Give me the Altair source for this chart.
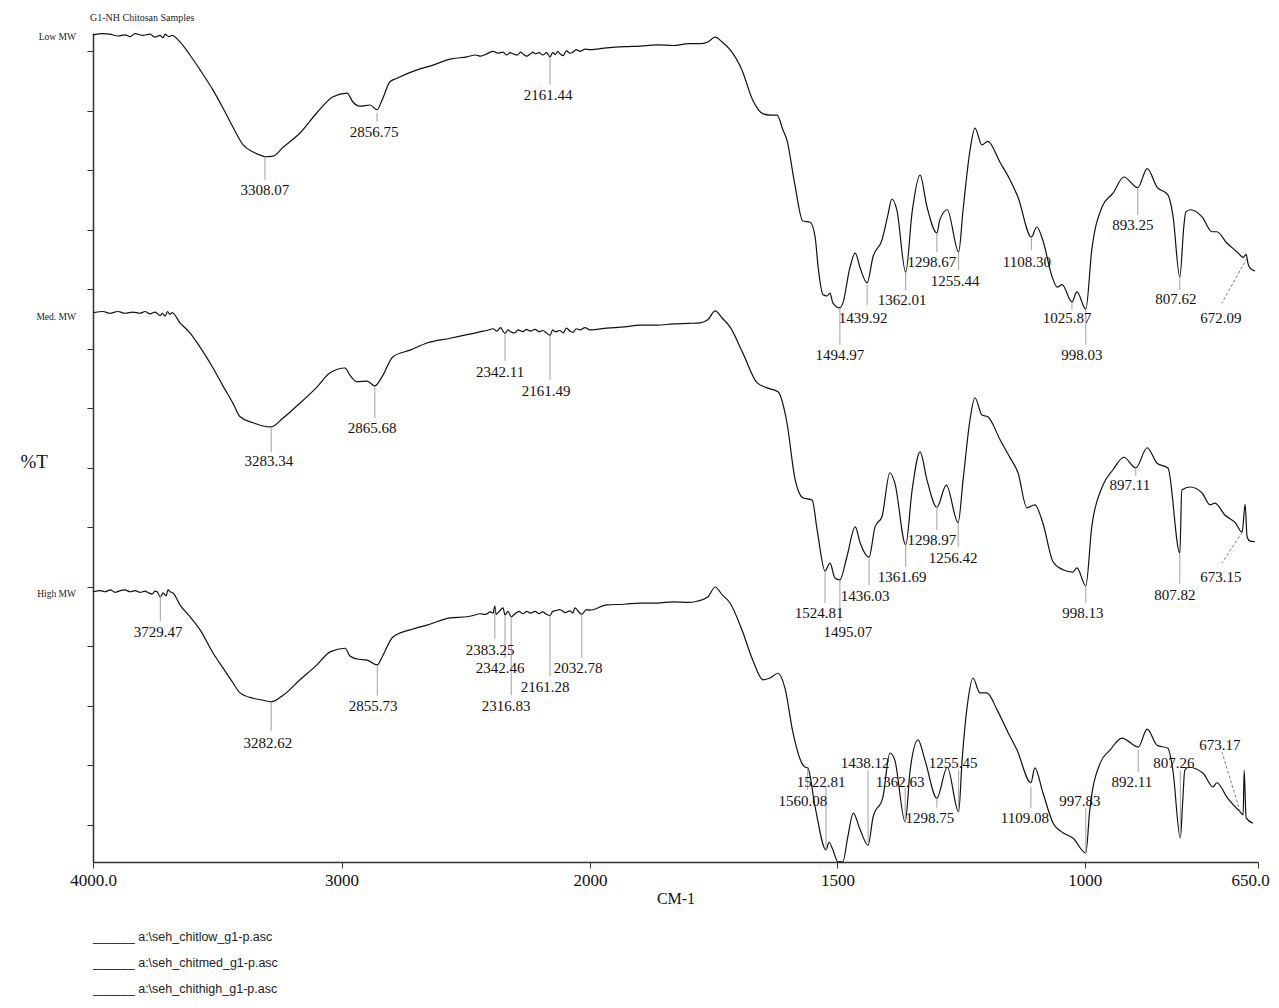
import altair as alt
import pandas as pd

# ---------------- spectra: wavenumber (cm-1) and %T (offset, arbitrary units) ----------------
low_wn = [4000, 3960, 3932, 3900, 3871, 3850, 3831, 3800, 3771, 3750, 3730, 3718, 3710, 3695, 3682, 3650,
          3610, 3569, 3517, 3477, 3437, 3396, 3356, 3316, 3308, 3276, 3235, 3167, 3099, 3034, 2978, 2954,
          2926, 2885, 2857, 2837, 2805, 2777, 2696, 2632, 2563, 2495, 2460, 2440, 2415, 2390, 2370, 2350,
          2335, 2322, 2305, 2290, 2280, 2270, 2255, 2240, 2230, 2221, 2205, 2190, 2175, 2161, 2150, 2140,
          2130, 2121, 2108, 2095, 2080, 2068, 2055, 2040, 2020, 2000, 1966, 1930, 1899, 1865, 1832, 1800,
          1778, 1762, 1747, 1733, 1717, 1693, 1671, 1650, 1636, 1622, 1610, 1602, 1586, 1570, 1555, 1545,
          1539, 1529, 1521, 1515, 1509, 1495, 1489, 1475, 1464, 1454, 1440, 1428, 1410, 1398, 1390, 1380,
          1362, 1349, 1333, 1319, 1299, 1293, 1278, 1255, 1246, 1232, 1222, 1208, 1196, 1171, 1151, 1135,
          1108, 1097, 1085, 1066, 1056, 1046, 1026, 1016, 998, 986, 965, 943, 921, 893, 874, 854, 832, 822,
          808, 800, 796, 787, 763, 743, 733, 713, 692, 680, 674, 670, 666, 656]
low_t = [142.8, 143.0, 142.9, 142.6, 142.8, 142.5, 143.0, 142.7, 142.9, 142.4, 142.7, 142.3, 142.9, 142.5,
         142.7, 141.6, 139.4, 136.9, 133.5, 130.5, 127.3, 124.3, 123.1, 122.4, 122.3, 122.4, 123.9, 126.3,
         129.7, 132.4, 133.0, 131.5, 130.8, 131.0, 130.2, 131.8, 134.9, 135.5, 136.9, 137.7, 138.7, 139.1,
         139.4, 139.2, 139.6, 140.0, 139.7, 139.9, 139.4, 139.8, 139.5, 139.4, 139.9, 139.6, 139.2, 139.6,
         139.9, 139.6, 139.8, 139.4, 139.8, 139.1, 139.8, 139.5, 140.0, 139.6, 139.3, 140.1, 139.7, 139.9,
         140.3, 140.0, 140.4, 140.3, 140.6, 140.8, 140.9, 141.1, 141.0, 141.3, 141.3, 141.6, 142.4, 141.6,
         140.3, 136.9, 131.8, 129.5, 129.3, 129.3, 126.8, 125.1, 117.6, 111.5, 111.3, 108.8, 103.8, 99.1,
         98.9, 99.4, 97.7, 96.9, 97.7, 103.6, 106.1, 103.6, 101.1, 105.5, 108.3, 112.5, 115.2, 113.4,
         102.9, 113.0, 119.2, 113.9, 109.5, 111.7, 113.4, 106.3, 113.4, 123.4, 127.1, 124.3, 124.9, 121.3,
         118.4, 115.5, 108.8, 110.5, 108.3, 102.1, 100.4, 100.8, 97.9, 99.6, 96.7, 106.6, 113.9, 116.2,
         118.9, 117.1, 120.3, 117.2, 115.9, 112.5, 102.1, 110.5, 113.0, 113.4, 112.2, 109.7, 109.7, 107.8,
         106.3, 105.4, 105.9, 104.3, 103.6, 103.1]

med_wn = [4000, 3960, 3932, 3900, 3871, 3840, 3811, 3790, 3771, 3750, 3730, 3720, 3710, 3700, 3690, 3682,
          3650, 3610, 3569, 3517, 3477, 3437, 3408, 3356, 3320, 3283, 3235, 3167, 3099, 3046, 2986, 2966,
          2938, 2897, 2866, 2837, 2793, 2724, 2656, 2563, 2495, 2460, 2440, 2415, 2390, 2375, 2360, 2350,
          2342, 2330, 2320, 2302, 2290, 2270, 2255, 2240, 2221, 2205, 2190, 2175, 2161, 2150, 2140, 2121,
          2108, 2095, 2080, 2068, 2055, 2040, 2020, 2000, 1966, 1930, 1899, 1865, 1832, 1800, 1778, 1762,
          1747, 1733, 1717, 1691, 1662, 1636, 1620, 1602, 1586, 1570, 1551, 1541, 1525, 1515, 1505, 1495,
          1481, 1464, 1454, 1436, 1424, 1410, 1394, 1384, 1362, 1349, 1333, 1319, 1299, 1280, 1256, 1246,
          1232, 1222, 1208, 1196, 1171, 1151, 1135, 1117, 1101, 1085, 1064, 1044, 1024, 1016, 998, 986,
          965, 943, 921, 897, 874, 854, 832, 808, 804, 787, 763, 747, 737, 717, 696, 682, 676, 672, 666,
          656]
med_t = [96.1, 96.3, 96.0, 96.3, 96.0, 96.2, 96.0, 96.3, 95.9, 96.2, 95.6, 96.0, 95.5, 96.3, 95.8, 96.1,
         94.4, 92.7, 90.3, 86.8, 83.8, 80.9, 78.6, 77.6, 77.1, 76.9, 78.4, 80.9, 83.6, 86.0, 86.8, 85.6,
         84.5, 84.6, 83.8, 85.3, 88.7, 89.8, 91.0, 91.8, 92.4, 92.7, 92.9, 93.1, 93.4, 93.0, 93.6, 93.0,
         92.6, 93.2, 92.9, 92.7, 93.2, 92.9, 93.3, 93.0, 93.3, 92.9, 93.1, 92.7, 92.3, 93.2, 92.9, 93.1,
         92.7, 93.5, 93.0, 92.8, 93.4, 93.2, 93.6, 93.2, 93.5, 93.7, 94.0, 94.0, 94.2, 94.3, 94.4, 94.9,
         96.4, 95.2, 93.7, 89.3, 84.3, 83.3, 82.8, 77.6, 68.3, 65.0, 64.6, 59.6, 52.7, 54.0, 51.5, 51.2,
         55.0, 60.1, 57.4, 55.0, 60.1, 61.8, 69.2, 67.5, 57.1, 66.3, 72.7, 68.0, 63.4, 67.1, 60.8, 68.0,
         78.1, 81.8, 78.9, 78.6, 74.7, 71.7, 69.2, 63.3, 63.8, 60.8, 54.2, 52.9, 52.5, 53.2, 50.2, 60.1,
         66.8, 69.7, 71.8, 70.0, 73.4, 70.8, 70.0, 55.7, 66.3, 66.8, 65.8, 63.8, 64.1, 62.1, 60.8, 59.2,
         63.9, 58.4, 57.7, 57.6]

high_wn = [4000, 3970, 3952, 3930, 3911, 3890, 3871, 3850, 3831, 3810, 3791, 3775, 3763, 3750, 3742, 3729,
           3718, 3706, 3698, 3690, 3678, 3650, 3610, 3569, 3517, 3477, 3437, 3408, 3356, 3320, 3283, 3235,
           3167, 3099, 3046, 2986, 2966, 2938, 2897, 2856, 2837, 2793, 2724, 2656, 2563, 2495, 2470, 2443,
           2420, 2402, 2390, 2383, 2378, 2365, 2350, 2342, 2330, 2317, 2302, 2285, 2270, 2255, 2240, 2221,
           2205, 2190, 2175, 2161, 2150, 2140, 2121, 2100, 2081, 2070, 2060, 2045, 2033, 2015, 2000, 1966,
           1930, 1899, 1865, 1832, 1800, 1784, 1762, 1747, 1733, 1717, 1693, 1671, 1650, 1636, 1620, 1606,
           1590, 1572, 1565, 1560, 1545, 1523, 1517, 1509, 1499, 1489, 1479, 1468, 1454, 1438, 1428, 1408,
           1394, 1384, 1363, 1353, 1337, 1323, 1299, 1278, 1255, 1248, 1236, 1226, 1212, 1198, 1177, 1155,
           1137, 1109, 1101, 1085, 1064, 1044, 1024, 998, 990, 969, 949, 925, 892, 874, 854, 832, 822, 807,
           802, 798, 790, 761, 741, 733, 713, 686, 680, 678, 674, 660]
high_t = [49.2, 49.4, 49.2, 49.5, 49.1, 49.4, 49.5, 49.2, 49.4, 49.1, 49.3, 49.0, 48.8, 49.3, 49.2, 48.3,
          49.0, 48.5, 49.5, 49.2, 49.0, 47.0, 45.0, 42.8, 38.9, 36.4, 33.9, 32.2, 31.3, 31.0, 30.7, 31.8,
          34.4, 36.9, 39.1, 39.7, 38.4, 37.9, 37.7, 36.9, 38.2, 41.6, 42.8, 43.6, 44.8, 45.0, 45.2, 45.5,
          45.4, 45.8, 45.6, 46.8, 45.4, 45.9, 46.5, 45.3, 45.9, 45.0, 45.5, 45.9, 45.5, 45.9, 45.6, 45.9,
          45.5, 45.8, 45.4, 45.2, 45.9, 46.0, 46.2, 45.7, 46.0, 45.6, 46.5, 45.8, 45.4, 46.2, 46.1, 47.0,
          47.1, 47.3, 47.3, 47.5, 47.4, 47.6, 48.3, 50.0, 48.7, 47.3, 42.8, 37.7, 34.4, 34.7, 35.5, 33.0,
          25.6, 20.4, 19.7, 19.6, 13.0, 5.8, 7.1, 5.8, 3.8, 3.8, 8.0, 12.0, 9.2, 6.6, 11.3, 14.7,
          22.1, 20.9, 10.5, 19.2, 24.3, 20.9, 14.5, 19.7, 12.2, 20.9, 31.0, 34.7, 32.2, 32.2, 29.3, 25.5,
          22.6, 17.1, 19.6, 15.5, 10.3, 8.7, 7.8, 5.3, 12.5, 20.4, 22.6, 24.6, 23.1, 26.1, 23.4, 22.9, 19.2,
          7.8, 14.2, 19.2, 19.7, 18.7, 16.4, 17.1, 14.7, 12.2, 11.7, 19.2, 11.2, 10.3]

sample_names = ["Low MW", "Med. MW", "High MW"]
sample_name_t = [142.4, 95.4, 48.8]

# ---------------- peak annotations ----------------
ann_text = ["3308.07", "2856.75", "2161.44", "1494.97", "1439.92", "1362.01", "1298.67", "1255.44",
            "1108.30", "1025.87", "998.03", "893.25", "807.62",
            "3283.34", "2865.68", "2342.11", "2161.49", "1524.81", "1495.07", "1436.03", "1361.69",
            "1298.97", "1256.42", "998.13", "897.11", "807.82",
            "3729.47", "3282.62", "2855.73", "2383.25", "2342.46", "2316.83", "2161.28", "2032.78",
            "1560.08", "1522.81", "1438.12", "1362.63", "1298.75", "1255.45", "1109.08", "997.83",
            "892.11", "807.26"]
ann_wn = [3308, 2857, 2161, 1495, 1440, 1362, 1299, 1255, 1108, 1026, 998, 893, 808,
          3283, 2866, 2342, 2161, 1525, 1495, 1436, 1362, 1299, 1256, 998, 897, 808,
          3729, 3283, 2856, 2383, 2342, 2317, 2161, 2033, 1560, 1523, 1438, 1363, 1299, 1255, 1109, 998,
          892, 807]
ann_y1 = [122.3, 129.7, 139.1, 96.9, 100.8, 102.9, 109.5, 106.3, 108.8, 97.9, 96.7, 117.1, 102.1,
          76.9, 83.8, 92.6, 92.3, 52.7, 51.2, 55.0, 57.1, 63.4, 60.8, 50.2, 70.0, 55.7,
          48.5, 30.7, 36.9, 46.3, 45.3, 45.0, 45.2, 45.4, 19.6, 16.4, 19.2, 16.2, 14.5, 19.2, 16.4, 12.9,
          22.6, 19.2]
ann_y2 = [118.4, 128.2, 134.4, 90.7, 97.4, 99.9, 106.3, 103.3, 106.6, 96.6, 90.7, 112.5, 99.9,
          72.7, 78.4, 88.0, 84.8, 47.3, 44.1, 50.3, 53.4, 59.6, 56.7, 47.3, 68.7, 50.5,
          44.3, 25.8, 31.8, 41.3, 38.1, 31.8, 35.0, 38.1, 15.9, 5.8, 7.0, 10.5, 12.9, 12.2, 12.9, 5.3,
          18.9, 7.8]
ann_lx = [3308, 2869, 2169, 1495, 1448, 1369, 1309, 1262, 1117, 1036, 1006, 903, 816,
          3292, 2877, 2362, 2177, 1537, 1479, 1444, 1369, 1309, 1266, 1004, 909, 818,
          3738, 3296, 2873, 2402, 2362, 2338, 2181, 2048, 1570, 1533, 1444, 1373, 1313, 1266, 1121, 1010,
          905, 820]
ann_ly = [116.7, 126.5, 132.7, 89.0, 95.2, 98.2, 104.6, 101.4, 104.6, 95.2, 89.0, 110.8, 98.4,
          71.2, 76.7, 86.1, 82.9, 45.6, 42.4, 48.5, 51.7, 57.9, 54.9, 45.6, 67.1, 48.7,
          42.4, 23.8, 30.0, 39.4, 36.4, 30.0, 33.2, 36.4, 14.0, 17.2, 20.4, 17.2, 11.2, 20.4, 11.2, 14.0,
          17.2, 20.4]

# dashed leader annotations (672 / 673 cm-1 bands)
dash_text = ["672.09", "673.15", "673.17"]
dash_x1 = [672, 682, 686]
dash_y1 = [105.3, 59.2, 12.2]
dash_x2 = [723, 723, 723]
dash_y2 = [97.7, 54.0, 22.3]
dash_lx = [725, 725, 727]
dash_ly = [95.2, 51.7, 23.4]

legend_files = ["a:\\seh_chitlow_g1-p.asc", "a:\\seh_chitmed_g1-p.asc", "a:\\seh_chithigh_g1-p.asc"]

# ---------------- tables ----------------
rows = []
for name, wn, t in [(sample_names[0], low_wn, low_t), (sample_names[1], med_wn, med_t),
                    (sample_names[2], high_wn, high_t)]:
    assert len(wn) == len(t), (name, len(wn), len(t))
    for i, (a, b) in enumerate(zip(wn, t)):
        rows.append({"sample": name, "wn": a, "t": b, "i": i})
spec = pd.DataFrame(rows)

assert len({len(ann_text), len(ann_wn), len(ann_y1), len(ann_y2), len(ann_lx), len(ann_ly)}) == 1
ann = pd.DataFrame({"text": ann_text, "wn": ann_wn, "y1": ann_y1, "y2": ann_y2, "lx": ann_lx, "ly": ann_ly})
dash = pd.DataFrame({"text": dash_text, "x1": dash_x1, "y1": dash_y1, "x2": dash_x2, "y2": dash_y2,
                     "lx": dash_lx, "ly": dash_ly})
names = pd.DataFrame({"sample": sample_names, "t": sample_name_t, "wn": [4000] * 3})

# ---------------- scales & axes ----------------
SERIF = "Liberation Serif"
xscale = alt.Scale(domain=[4000, 2000, 650], range=[0, 497, 1165])
yscale = alt.Scale(domain=[3.78, 143.1], nice=False, zero=False)

x_axis = alt.Axis(
    values=[4000, 3000, 2000, 1500, 1000, 650],
    labelExpr="datum.value == 4000 ? '4000.0' : datum.value == 650 ? '650.0' : format(datum.value, 'd')",
    labelOffset={"condition": {"test": "datum.value == 650", "value": -8}, "value": 0},
    title="CM-1", titleFont=SERIF, titleFontSize=16, titleFontWeight="normal", titleColor="#111",
    titlePadding=2, labelFont=SERIF, labelFontSize=17, labelColor="#111", labelPadding=4,
    labelFlush=False, labelOverlap=False, tickSize=6, tickColor="#333", domainColor="#333",
    domainWidth=1.5, grid=False,
)
y_axis = alt.Axis(
    values=list(range(10, 150, 10)), labels=False, tickSize=6, tickColor="#333",
    domainColor="#333", domainWidth=1.5, grid=False,
    title="%T", titleAngle=0, titleAlign="left", titleBaseline="middle", titleX=-73, titleY=428,
    titleFont=SERIF, titleFontSize=19, titleFontWeight="normal", titleColor="#111",
)


def X(field):
    return alt.X(field, type="quantitative", scale=xscale, axis=x_axis)


def Y(field):
    return alt.Y(field, type="quantitative", scale=yscale, axis=y_axis)


lines = alt.Chart(spec).mark_line(color="#111", strokeWidth=1.2, interpolate="monotone").encode(
    x=X("wn"), y=Y("t"), detail="sample:N", order="i:Q"
)
ticks = alt.Chart(ann).mark_rule(color="#a0a0a0", strokeWidth=1).encode(
    x=X("wn"), y=Y("y1"), y2="y2"
)
labels = alt.Chart(ann).mark_text(font=SERIF, fontSize=15, color="#111", baseline="middle").encode(
    x=X("lx"), y=Y("ly"), text="text:N"
)
dashes = alt.Chart(dash).mark_rule(color="#808080", strokeWidth=1, strokeDash=[3, 2]).encode(
    x=X("x1"), y=Y("y1"), x2="x2", y2="y2"
)
dash_labels = alt.Chart(dash).mark_text(font=SERIF, fontSize=15, color="#111", baseline="middle").encode(
    x=X("lx"), y=Y("ly"), text="text:N"
)
name_text = alt.Chart(names).mark_text(font=SERIF, fontSize=9.5, color="#222", align="right",
                                       baseline="middle", dx=-17).encode(
    x=X("wn"), y=Y("t"), text="sample:N"
)

legend_layers = []
for k, f in enumerate(legend_files):
    legend_layers.append(
        alt.Chart(pd.DataFrame({"label": ["______ " + f]})).mark_text(
            font="Liberation Sans", fontSize=12.5, color="#222", align="left", baseline="middle"
        ).encode(x=alt.value(0), y=alt.value(904 + 26 * k), text="label:N")
    )

chart = alt.layer(lines, ticks, dashes, labels, dash_labels, name_text, *legend_layers).properties(
    width=1165,
    height=829,
    padding={"left": 85, "top": 25, "right": 13, "bottom": 137},
    autosize=alt.AutoSizeParams(type="none"),
    background="white",
    title=alt.Title("G1-NH Chitosan Samples", anchor="start", fontSize=10, font=SERIF,
                    fontWeight="normal", color="#222", offset=8, dx=-3, frame="group"),
).configure_view(stroke=None)

chart.save("out.html", embed_options={"renderer": "svg", "actions": False})
